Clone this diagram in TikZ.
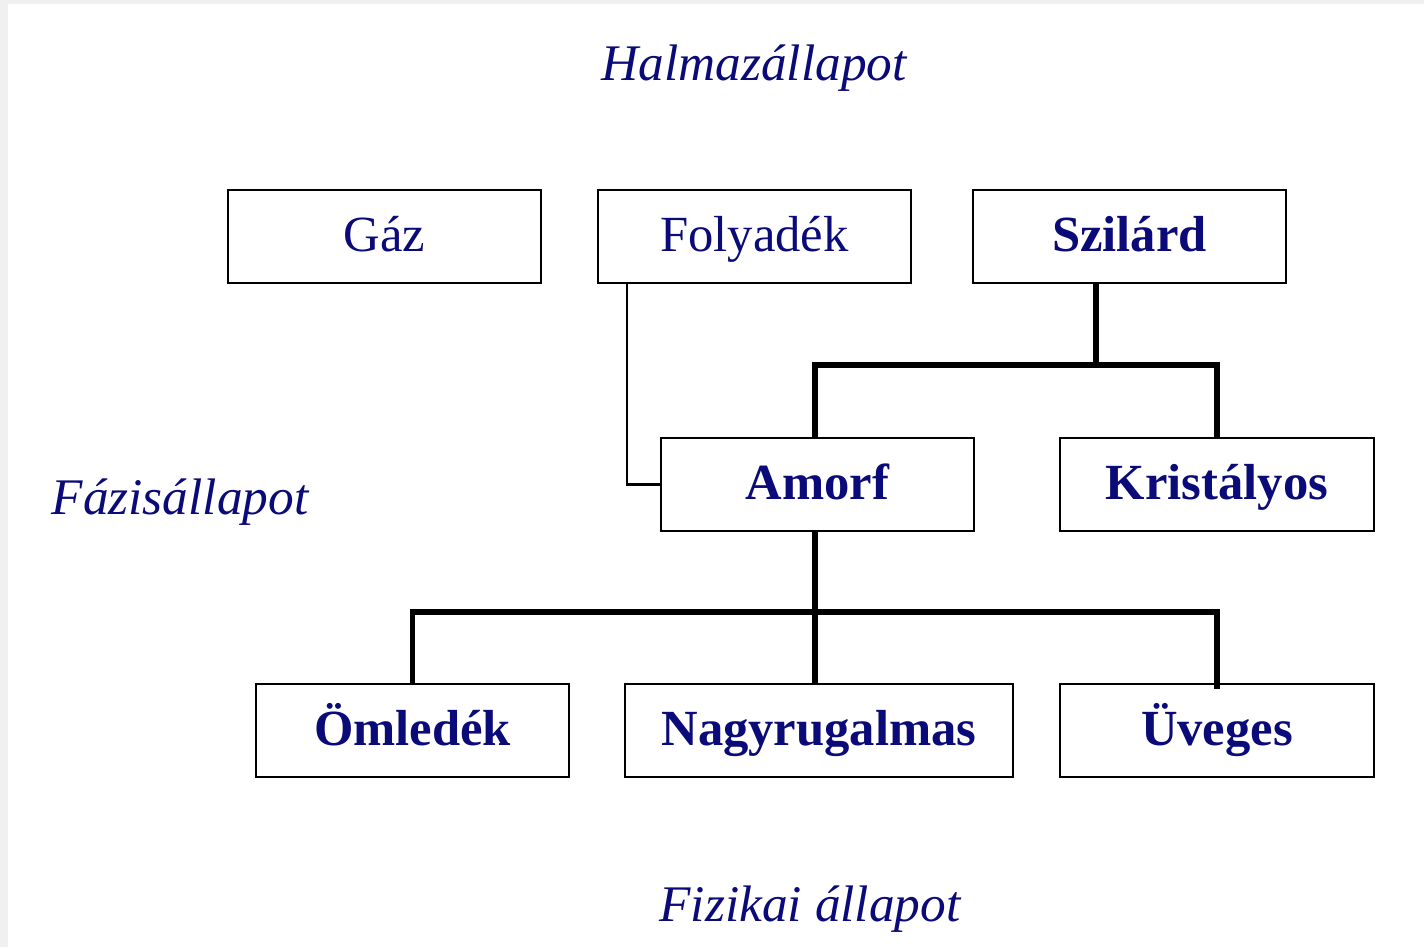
\documentclass[tikz,border=0pt]{standalone}
\usepackage{fontspec}
\setmainfont{Liberation Serif}
\usepackage{tikz}
\usetikzlibrary{positioning, calc}
\definecolor{sotetkek}{RGB}{10,10,120}
\definecolor{hatter}{RGB}{240,240,240}

\begin{document}
\begin{tikzpicture}[x=0.01cm, y=-0.01cm,
    doboz/.style={draw=black, line width=0.6pt, minimum width=3.13cm, minimum height=0.93cm,
        text height=11.8pt, text depth=3pt,
        text=sotetkek, font=\fontsize{14.4}{17}\selectfont},
    vastagdoboz/.style={doboz, font=\fontsize{14.4}{17}\selectfont\bfseries},
    cimke/.style={text=sotetkek, font=\fontsize{14.6}{17}\selectfont\itshape},
    vekony/.style={line width=0.6pt},
    vastag/.style={line width=1.45pt}]

    % Keret
    \useasboundingbox (0,0) rectangle (1424,947);
    \fill[hatter] (0,0) rectangle (1424,947);
    \fill[white] (8,4) rectangle (1424,947);

    % Feliratok
    \node[cimke] (halmaz) at (754,68) {Halmazállapot};
    \node[cimke] (fazis) at (180,502) {Fázisállapot};
    \node[cimke] (fizikai) at (810,909) {Fizikai állapot};

    % Halmazállapotok
    \node[doboz] (gaz) at (384.5,236.5) {Gáz};
    \node[doboz] (folyadek) at (754.5,236.5) {Folyadék};
    \node[vastagdoboz] (szilard) at (1129.5,236.5) {Szilárd};

    % Fázisállapotok
    \node[vastagdoboz] (amorf) at (817.5,484.5) {Amorf};
    \node[vastagdoboz] (kristalyos) at (1217,484.5) {Kristályos};

    % Fizikai állapotok
    \node[vastagdoboz] (omledek) at (412.5,730.5) {Ömledék};
    \node[vastagdoboz, minimum width=3.88cm] (nagyrug) at (819,730.5) {Nagyrugalmas};
    \node[vastagdoboz] (uveges) at (1217,730.5) {Üveges};

    % Elágazások
    \coordinate (elag1) at (1096,365);
    \coordinate (elag2) at (815,612);

    % Vonalak
    \draw[vekony] ([xshift=0.3cm]folyadek.south west) |- (amorf.west);
    \draw[vastag] (szilard.south -| elag1) -- (elag1);
    \draw[vastag] (amorf.north -| elag2) |- (elag1) -| (kristalyos.north);
    \draw[vastag] (amorf.south -| elag2) -- (nagyrug.north -| elag2);
    \draw[vastag] (omledek.north) |- (elag2) -| ([yshift=-1.7pt]uveges.north);

\end{tikzpicture}
\end{document}
